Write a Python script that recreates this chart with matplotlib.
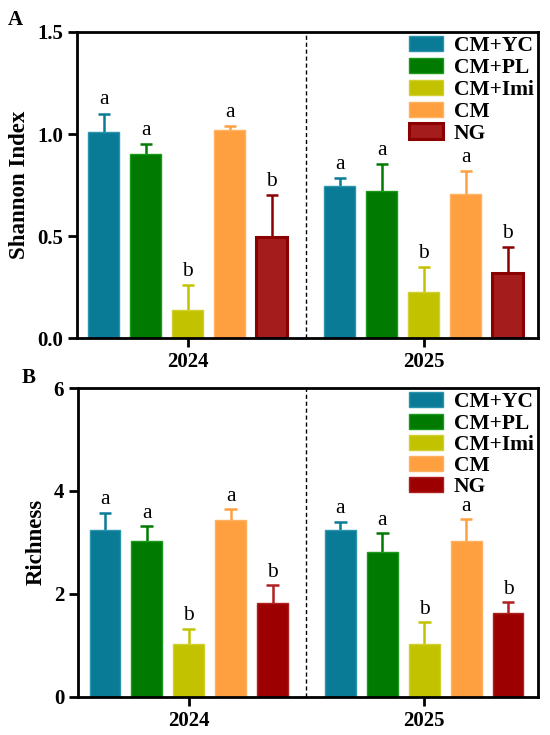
import numpy as np
import matplotlib.pyplot as plt

plt.rcParams['font.family'] = ['Liberation Serif', 'DejaVu Serif']

years = ["2024", "2025"]
groups = ["CM+YC", "CM+PL", "CM+Imi", "CM", "NG"]
colors = ["#0a7b96", "#007a00", "#c2c200", "#ffa040", "#a51c1c"]
edges = ["#2a94ad", "#1a9a1a", "#d0d030", "#ffb060", "#8b0000"]
edges_b = ["#2a94ad", "#1a9a1a", "#d0d030", "#ffb060", "#b02020"]
colors_b = ["#0a7b96", "#007a00", "#c2c200", "#ffa040", "#9c0000"]

# Shannon index, per treatment: [2024, 2025]
shannon = [[1.01, 0.745], [0.90, 0.722], [0.14, 0.224], [1.018, 0.704], [0.495, 0.317]]
shannon_err = [[0.09, 0.04], [0.05, 0.13], [0.12, 0.125], [0.02, 0.115], [0.205, 0.127]]
shannon_sig = [["a", "a"], ["a", "a"], ["b", "b"], ["a", "a"], ["b", "b"]]

# Richness, per treatment: [2024, 2025]
richness = [[3.24, 3.24], [3.03, 2.82], [1.03, 1.03], [3.44, 3.03], [1.82, 1.63]]
richness_err = [[0.34, 0.16], [0.28, 0.36], [0.29, 0.42], [0.21, 0.42], [0.35, 0.21]]
richness_sig = [["a", "a"], ["a", "a"], ["b", "b"], ["a", "a"], ["b", "b"]]

fig = plt.figure(figsize=(5.5, 7.35), dpi=100)
ax1 = fig.add_axes([0.140, 0.540, 0.838, 0.4165])
ax2 = fig.add_axes([0.142, 0.052, 0.836, 0.420])

step = 0.178
width = 0.131
cap = 0.027
x = np.arange(len(years))


def draw(ax, vals, errs, sigs, ylim, yticks, ylabel, fcols, ecols, lw_last, off, lsp):
    for i, g in enumerate(groups):
        pos = x + (i - 2) * step
        lw = lw_last if i == 4 else 1.0
        v = np.array(vals[i])
        top = v + np.array(errs[i])
        ecol = fcols[i] if i != 4 else ecols[i]
        ax.vlines(pos, v, top, color=ecol, linewidth=1.8, zorder=1)
        ax.hlines(top, pos - cap, pos + cap, color=ecol, linewidth=1.8, zorder=1)
        ax.bar(pos, v, width, color=fcols[i], edgecolor=ecols[i],
               linewidth=lw, label=g, zorder=2)
        for j in range(len(years)):
            ax.annotate(sigs[i][j], (pos[j], top[j]),
                        xytext=(0, off), textcoords="offset points",
                        ha="center", va="bottom", fontsize=15.5)
    ax.axvline(0.5, color="black", linestyle=(0, (3, 2)), linewidth=1.0)
    ax.set_xlim(-0.470, 1.483)
    ax.set_ylim(*ylim)
    ax.set_yticks(yticks)
    ax.set_xticks(x)
    ax.set_xticklabels(years)
    ax.set_ylabel(ylabel, fontsize=16.5, fontweight="bold", labelpad=5)
    for s in ax.spines.values():
        s.set_linewidth(2.0)
    ax.tick_params(axis="both", width=2.0, length=6.5, labelsize=15, direction="out")
    for lab in ax.get_xticklabels() + ax.get_yticklabels():
        lab.set_fontweight("bold")
    ax.legend(loc="upper right", frameon=False,
              prop={"weight": "bold", "size": 15.5},
              handlelength=1.58, handleheight=0.7, labelspacing=lsp,
              handletextpad=0.5, borderaxespad=0.1, borderpad=0.1)


draw(ax1, shannon, shannon_err, shannon_sig, (0, 1.5), [0, 0.5, 1.0, 1.5],
     "Shannon Index", colors, edges, 2.2, 3, 0.08)
ax1.set_yticklabels(["0.0", "0.5", "1.0", "1.5"], fontweight="bold")
draw(ax2, richness, richness_err, richness_sig, (0, 6), [0, 2, 4, 6],
     "Richness", colors_b, edges_b, 1.0, 2.5, 0.05)

fig.text(0.015, 0.966, "A", fontsize=15, fontweight="bold")
fig.text(0.040, 0.479, "B", fontsize=15, fontweight="bold")

fig.savefig("out.png", dpi=100)
